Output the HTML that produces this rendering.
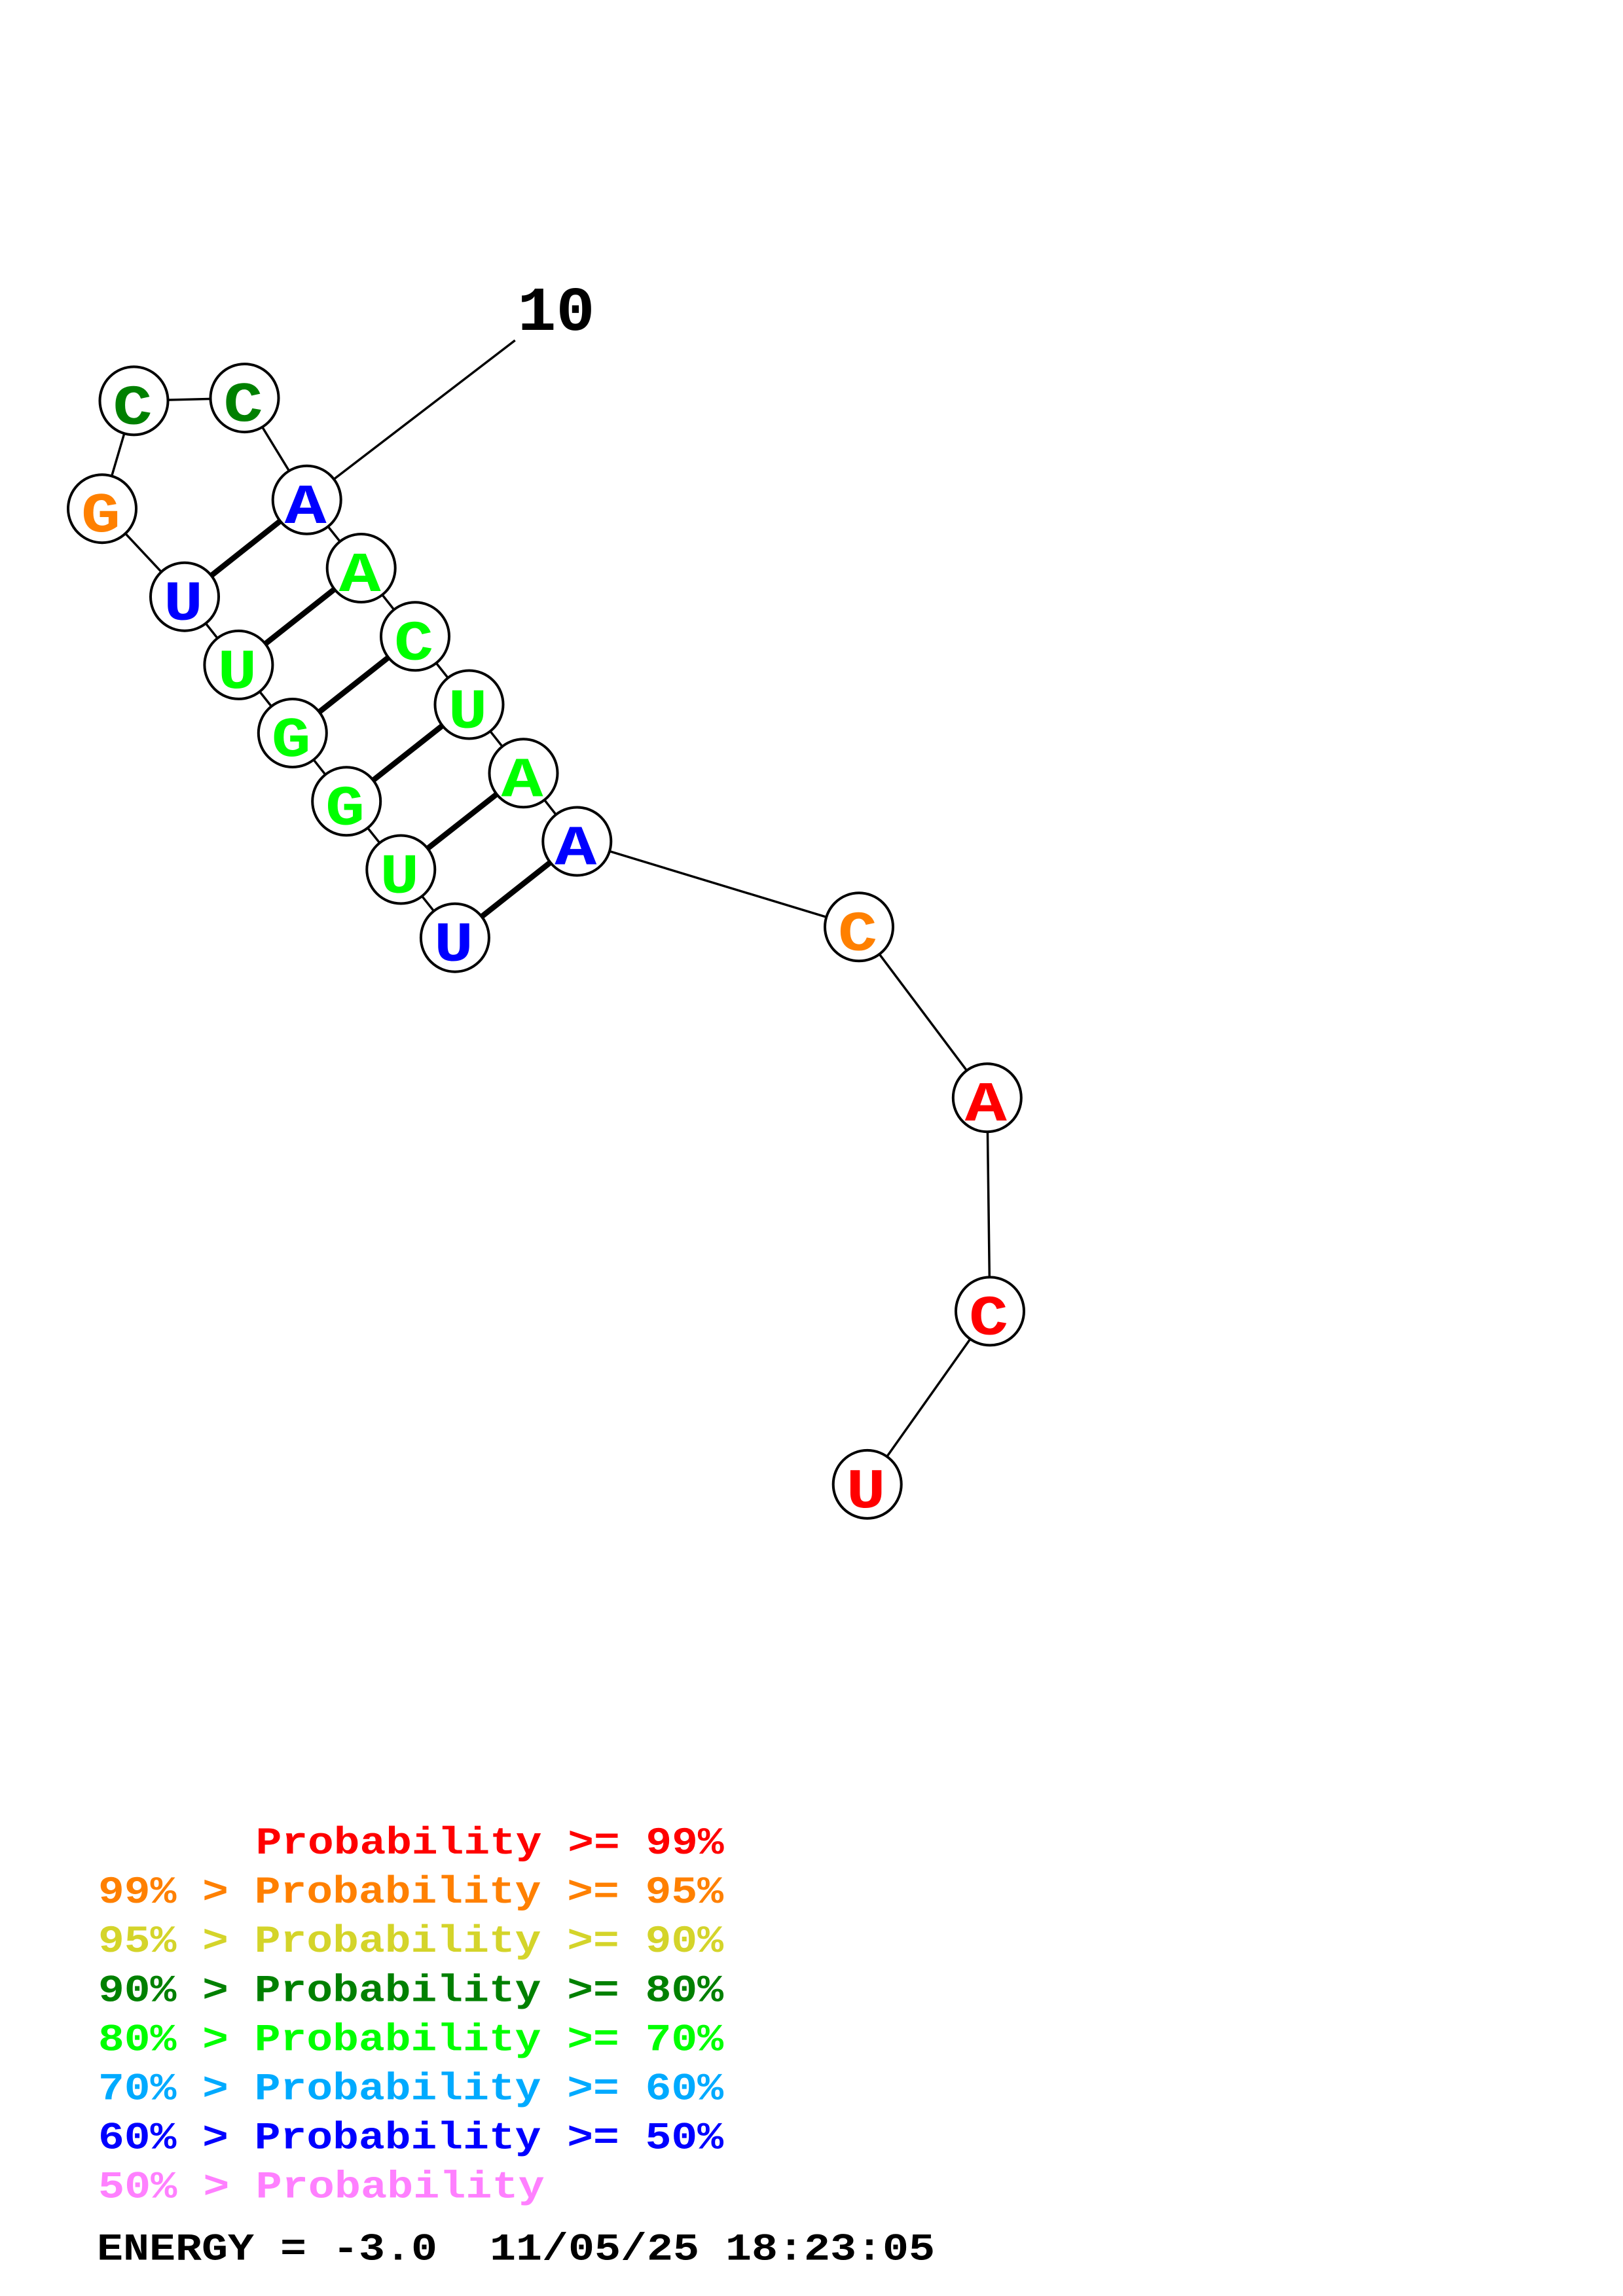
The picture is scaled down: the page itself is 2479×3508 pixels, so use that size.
<!DOCTYPE html>
<html>
<head>
<meta charset="utf-8">
<style>
html,body{margin:0;padding:0;background:#fff;}
svg{display:block;}
text{font-family:"Liberation Mono","DejaVu Sans Mono",monospace;font-weight:bold;white-space:pre;}
</style>
</head>
<body>
<svg width="2479" height="3508" viewBox="0 0 2479 3508" xmlns="http://www.w3.org/2000/svg">
<rect x="0" y="0" width="2479" height="3508" fill="#fff"/>

<!-- label line for 10 -->
<line x1="468.7" y1="763.8" x2="786.7" y2="520" stroke="#000" stroke-width="3.5"/>

<!-- backbone -->
<polyline fill="none" stroke="#000" stroke-width="3.5" points="694.9,1432.7 612.3,1328.5 529.2,1224.3 446.8,1120 364.4,1015.9 282,911.7 156,777.2 204.5,612.4 373.5,608.1 468.7,763.8 551.7,868 634,972.3 716.5,1076.5 799.5,1181.3 881.3,1285.5 1312,1416.3 1507.8,1677.2 1512,2003.4 1324.7,2267.9"/>

<!-- pairs -->
<g stroke="#000" stroke-width="8.5">
<line x1="694.9" y1="1432.7" x2="881.3" y2="1285.5"/>
<line x1="612.3" y1="1328.5" x2="799.5" y2="1181.3"/>
<line x1="529.2" y1="1224.3" x2="716.5" y2="1076.5"/>
<line x1="446.8" y1="1120" x2="634" y2="972.3"/>
<line x1="364.4" y1="1015.9" x2="551.7" y2="868"/>
<line x1="282" y1="911.7" x2="468.7" y2="763.8"/>
</g>

<!-- circles -->
<g fill="#fff" stroke="#000" stroke-width="4">
<circle cx="694.9" cy="1432.7" r="52"/>
<circle cx="612.3" cy="1328.5" r="52"/>
<circle cx="529.2" cy="1224.3" r="52"/>
<circle cx="446.8" cy="1120" r="52"/>
<circle cx="364.4" cy="1015.9" r="52"/>
<circle cx="282" cy="911.7" r="52"/>
<circle cx="156" cy="777.2" r="52"/>
<circle cx="204.5" cy="612.4" r="52"/>
<circle cx="373.5" cy="608.1" r="52"/>
<circle cx="468.7" cy="763.8" r="52"/>
<circle cx="551.7" cy="868" r="52"/>
<circle cx="634" cy="972.3" r="52"/>
<circle cx="716.5" cy="1076.5" r="52"/>
<circle cx="799.5" cy="1181.3" r="52"/>
<circle cx="881.3" cy="1285.5" r="52"/>
<circle cx="1312" cy="1416.3" r="52"/>
<circle cx="1507.8" cy="1677.2" r="52"/>
<circle cx="1512" cy="2003.4" r="52"/>
<circle cx="1324.7" cy="2267.9" r="52"/>
</g>

<!-- letters -->
<g font-size="86" text-anchor="middle">
<text x="693" y="1467.7" fill="#0000ff" textLength="60" lengthAdjust="spacingAndGlyphs">U</text>
<text x="610.3" y="1363.5" fill="#00ff00" textLength="60" lengthAdjust="spacingAndGlyphs">U</text>
<text x="527.2" y="1259.3" fill="#00ff00" textLength="60" lengthAdjust="spacingAndGlyphs">G</text>
<text x="444.8" y="1155" fill="#00ff00" textLength="60" lengthAdjust="spacingAndGlyphs">G</text>
<text x="362.4" y="1050.9" fill="#00ff00" textLength="60" lengthAdjust="spacingAndGlyphs">U</text>
<text x="280" y="946.7" fill="#0000ff" textLength="60" lengthAdjust="spacingAndGlyphs">U</text>
<text x="154" y="812.2" fill="#ff8000" textLength="60" lengthAdjust="spacingAndGlyphs">G</text>
<text x="202.5" y="647.4" fill="#008000" textLength="60" lengthAdjust="spacingAndGlyphs">C</text>
<text x="371.5" y="643.1" fill="#008000" textLength="60" lengthAdjust="spacingAndGlyphs">C</text>
<text x="466.7" y="798.8" fill="#0000ff" textLength="64" lengthAdjust="spacingAndGlyphs">A</text>
<text x="549.7" y="903" fill="#00ff00" textLength="64" lengthAdjust="spacingAndGlyphs">A</text>
<text x="632" y="1007.3" fill="#00ff00" textLength="60" lengthAdjust="spacingAndGlyphs">C</text>
<text x="714.5" y="1111.5" fill="#00ff00" textLength="60" lengthAdjust="spacingAndGlyphs">U</text>
<text x="797.5" y="1216.3" fill="#00ff00" textLength="64" lengthAdjust="spacingAndGlyphs">A</text>
<text x="879.3" y="1320.5" fill="#0000ff" textLength="64" lengthAdjust="spacingAndGlyphs">A</text>
<text x="1310" y="1451.3" fill="#ff8000" textLength="60" lengthAdjust="spacingAndGlyphs">C</text>
<text x="1505.8" y="1712.2" fill="#ff0000" textLength="64" lengthAdjust="spacingAndGlyphs">A</text>
<text x="1510" y="2038.4" fill="#ff0000" textLength="60" lengthAdjust="spacingAndGlyphs">C</text>
<text x="1322.7" y="2302.9" fill="#ff0000" textLength="60" lengthAdjust="spacingAndGlyphs">U</text>
</g>

<!-- 10 label -->
<text x="849.5" y="504" font-size="96" text-anchor="middle" fill="#000" textLength="118" lengthAdjust="spacingAndGlyphs">10</text>

<!-- legend -->
<g font-size="58">
<text x="390.6" y="2832" fill="#ff0000" textLength="715" lengthAdjust="spacingAndGlyphs">Probability &gt;= 99%</text>
<text x="150" y="2907.1" fill="#ff8000" textLength="955" lengthAdjust="spacingAndGlyphs">99% &gt; Probability &gt;= 95%</text>
<text x="150" y="2982.2" fill="#d4d42a" textLength="955" lengthAdjust="spacingAndGlyphs">95% &gt; Probability &gt;= 90%</text>
<text x="150" y="3057.3" fill="#008000" textLength="955" lengthAdjust="spacingAndGlyphs">90% &gt; Probability &gt;= 80%</text>
<text x="150" y="3132.4" fill="#00ff00" textLength="955" lengthAdjust="spacingAndGlyphs">80% &gt; Probability &gt;= 70%</text>
<text x="150" y="3207.5" fill="#00aaff" textLength="955" lengthAdjust="spacingAndGlyphs">70% &gt; Probability &gt;= 60%</text>
<text x="150" y="3282.6" fill="#0000ff" textLength="955" lengthAdjust="spacingAndGlyphs">60% &gt; Probability &gt;= 50%</text>
<text x="150" y="3357.7" fill="#ff80ff" textLength="681.7" lengthAdjust="spacingAndGlyphs">50% &gt; Probability</text>
<text x="148" y="3452.7" fill="#000" textLength="1280" lengthAdjust="spacingAndGlyphs">ENERGY = -3.0  11/05/25 18:23:05</text>
</g>
</svg>
</body>
</html>
